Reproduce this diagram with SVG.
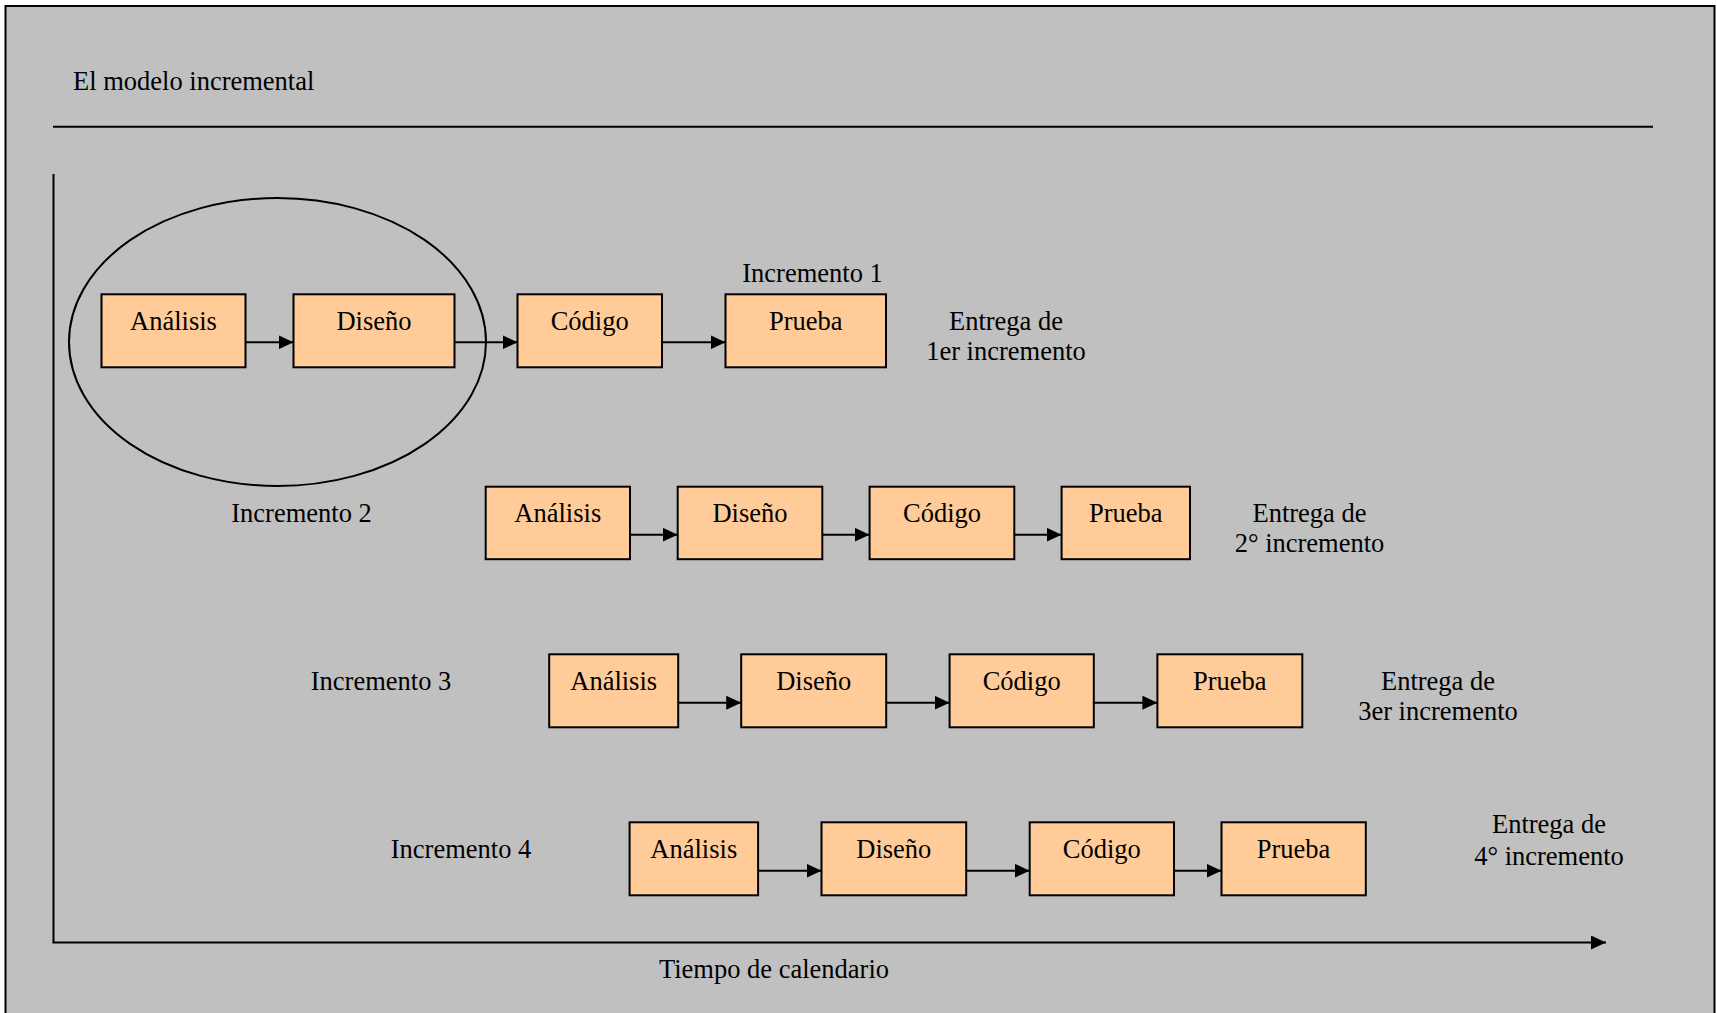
<svg xmlns="http://www.w3.org/2000/svg" width="1717" height="1013" viewBox="0 0 1717 1013">
  <style>
    text { font-family: "Liberation Serif", "Times New Roman", serif; font-size: 26.5px; fill: #000; }
    .c { text-anchor: middle; }
    .box { fill: #FFCC99; stroke: #000; stroke-width: 2; }
    .line { stroke: #000; stroke-width: 2; fill: none; }
    .arrow { stroke: #000; stroke-width: 2; fill: none; marker-end: url(#head); }
  </style>
  <defs>
    <marker id="head" markerUnits="userSpaceOnUse" markerWidth="16" markerHeight="14" refX="15" refY="7" orient="auto">
      <path d="M0,0 L15,7 L0,14 Z" fill="#000"/>
    </marker>
  </defs>

  <!-- frame -->
  <rect x="5.5" y="6" width="1709" height="1020" fill="#C0C0C0" stroke="#000" stroke-width="2"/>

  <!-- heading -->
  <text x="73" y="90">El modelo incremental</text>
  <line class="line" x1="53" y1="126.7" x2="1653" y2="126.7"/>

  <!-- time axes -->
  <g id="axes">
    <line class="line" x1="53.5" y1="174" x2="53.5" y2="942.5"/>
    <line class="arrow" x1="52.5" y1="942.5" x2="1606" y2="942.5"/>
    <text class="c" x="774" y="978">Tiempo de calendario</text>
  </g>

  <!-- ellipse around the first increment's analysis and design -->
  <ellipse id="increment2-group" cx="277.5" cy="342" rx="208.5" ry="144" fill="none" stroke="#000" stroke-width="2"/>

  <!-- increment labels -->
  <text class="c" x="812.5" y="281.5">Incremento 1</text>
  <text class="c" x="301.5" y="521.7">Incremento 2</text>
  <text class="c" x="381" y="690">Incremento 3</text>
  <text class="c" x="461" y="858.3">Incremento 4</text>

  <!-- delivery labels -->
  <text class="c" x="1006" y="330">Entrega de</text>
  <text class="c" x="1006" y="360">1er incremento</text>
  <text class="c" x="1309.5" y="521.7">Entrega de</text>
  <text class="c" x="1309.5" y="551.7">2° incremento</text>
  <text class="c" x="1438" y="690">Entrega de</text>
  <text class="c" x="1438" y="720">3er incremento</text>
  <text class="c" x="1549" y="833.3">Entrega de</text>
  <text class="c" x="1549" y="865">4° incremento</text>

  <!-- increment 1 -->
  <g id="r1-analisis"><rect class="box" x="101.5" y="294.3" width="144" height="73"/><text class="c" x="173.5" y="330">Análisis</text></g>
  <g id="r1-diseno"><rect class="box" x="293.5" y="294.3" width="161" height="73"/><text class="c" x="374" y="330">Diseño</text></g>
  <g id="r1-codigo"><rect class="box" x="517.5" y="294.3" width="144.5" height="73"/><text class="c" x="589.7" y="330">Código</text></g>
  <g id="r1-prueba"><rect class="box" x="725.5" y="294.3" width="160.5" height="73"/><text class="c" x="805.7" y="330">Prueba</text></g>

  <!-- increment 2 -->
  <g id="r2-analisis"><rect class="box" x="485.7" y="486.7" width="144.3" height="72.5"/><text class="c" x="557.8" y="521.7">Análisis</text></g>
  <g id="r2-diseno"><rect class="box" x="677.7" y="486.7" width="144.6" height="72.5"/><text class="c" x="750" y="521.7">Diseño</text></g>
  <g id="r2-codigo"><rect class="box" x="869.6" y="486.7" width="144.7" height="72.5"/><text class="c" x="942" y="521.7">Código</text></g>
  <g id="r2-prueba"><rect class="box" x="1061.6" y="486.7" width="128.4" height="72.5"/><text class="c" x="1125.8" y="521.7">Prueba</text></g>

  <!-- increment 3 -->
  <g id="r3-analisis"><rect class="box" x="549.2" y="654.3" width="129" height="73"/><text class="c" x="613.7" y="690">Análisis</text></g>
  <g id="r3-diseno"><rect class="box" x="741.2" y="654.3" width="145" height="73"/><text class="c" x="813.7" y="690">Diseño</text></g>
  <g id="r3-codigo"><rect class="box" x="949.6" y="654.3" width="144.2" height="73"/><text class="c" x="1021.7" y="690">Código</text></g>
  <g id="r3-prueba"><rect class="box" x="1157.4" y="654.3" width="144.9" height="73"/><text class="c" x="1229.8" y="690">Prueba</text></g>

  <!-- increment 4 -->
  <g id="r4-analisis"><rect class="box" x="629.6" y="822.3" width="128.5" height="73"/><text class="c" x="693.8" y="858.3">Análisis</text></g>
  <g id="r4-diseno"><rect class="box" x="821.5" y="822.3" width="144.7" height="73"/><text class="c" x="893.8" y="858.3">Diseño</text></g>
  <g id="r4-codigo"><rect class="box" x="1029.7" y="822.3" width="144.3" height="73"/><text class="c" x="1101.8" y="858.3">Código</text></g>
  <g id="r4-prueba"><rect class="box" x="1221.5" y="822.3" width="144.3" height="73"/><text class="c" x="1293.6" y="858.3">Prueba</text></g>

  <!-- connectors -->
  <g id="connectors">
    <line class="arrow" x1="245.5" y1="342.3" x2="293.5" y2="342.3"/>
    <line class="arrow" x1="454.5" y1="342.3" x2="517.5" y2="342.3"/>
    <line class="arrow" x1="662" y1="342.3" x2="725.5" y2="342.3"/>

    <line class="arrow" x1="630" y1="534.7" x2="677.7" y2="534.7"/>
    <line class="arrow" x1="822.3" y1="534.7" x2="869.6" y2="534.7"/>
    <line class="arrow" x1="1014.3" y1="534.7" x2="1061.6" y2="534.7"/>

    <line class="arrow" x1="678.2" y1="702.7" x2="741.2" y2="702.7"/>
    <line class="arrow" x1="886.2" y1="702.7" x2="949.6" y2="702.7"/>
    <line class="arrow" x1="1093.8" y1="702.7" x2="1157.4" y2="702.7"/>

    <line class="arrow" x1="758.1" y1="870.7" x2="821.5" y2="870.7"/>
    <line class="arrow" x1="966.2" y1="870.7" x2="1029.7" y2="870.7"/>
    <line class="arrow" x1="1174" y1="870.7" x2="1221.5" y2="870.7"/>
  </g>
</svg>
